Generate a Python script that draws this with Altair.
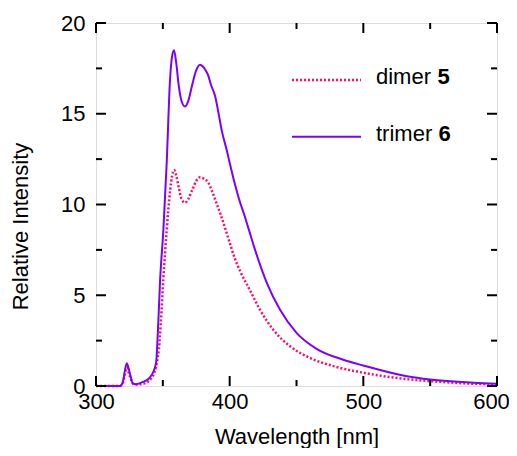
import altair as alt
import pandas as pd

# ---- data ----
trimer_wl = [300, 310, 318, 320, 323, 325, 327.5, 330, 335, 340, 343, 345, 346, 348, 350.4, 352.9,
             355.4, 357, 358.4, 360, 362, 364, 366.5, 369, 372, 375, 377.8, 380, 382, 384, 386, 389,
             392, 394, 397.8, 400, 404, 407, 411.5, 414, 419, 427.7, 437.7, 450, 465, 485, 500,
             532.5, 550, 582.5, 600]
trimer_int = [0, 0, 0, 0.2, 1.25, 0.8, 0.15, 0.1, 0.22, 0.45, 0.8, 1.3, 2.5, 5.9, 8.6, 12.3,
              16.9, 18.2, 18.5, 17.8, 16.5, 15.7, 15.4, 15.7, 16.6, 17.4, 17.7, 17.6, 17.4, 17.1, 16.6, 16.0,
              14.9, 14.1, 13.0, 12.3, 11.1, 10.3, 9.3, 8.7, 7.5, 5.7, 4.2, 2.93, 2.05, 1.45, 1.13,
              0.54, 0.36, 0.18, 0.12]

dimer_wl = [300, 318, 320, 323, 325, 328.5, 333, 337.5, 341, 343.6, 346, 347, 348.5, 350.4, 352.9,
            355.5, 357, 358.4, 360, 362, 364, 366.6, 369, 372, 375, 377.8, 380, 384, 387, 390, 393,
            397, 400, 404, 408, 415, 422.7, 432.6, 445, 460, 480, 500, 532.5, 550, 575, 600]
dimer_int = [0, 0, 0.15, 1.0, 0.6, 0.08, 0.1, 0.18, 0.4, 0.73, 1.5, 2.0, 3.5, 5.9, 8.6,
             10.8, 11.6, 11.9, 11.6, 10.9, 10.3, 10.1, 10.3, 10.8, 11.3, 11.5, 11.45, 11.2, 10.7, 10.1, 9.5,
             8.6, 7.9, 7.0, 6.3, 5.3, 4.2, 3.1, 2.2, 1.55, 1.05, 0.73, 0.38, 0.27, 0.15, 0.08]

x_major = [300, 400, 500, 600]
x_minor = [350, 450, 550]
y_major = [0, 5, 10, 15, 20]
y_minor = [2.5, 7.5, 12.5, 17.5]

W, H = 401, 363
FONT = "Liberation Sans"
FS = 22
TRIMER_C = "#7a00ff"
DIMER_C = "#ff0a6a"

xs = alt.Scale(domain=[300, 600], nice=False, zero=False)
ys = alt.Scale(domain=[0, 20], nice=False, zero=True)

trimer_df = pd.DataFrame({"wl": trimer_wl, "I": trimer_int})
dimer_df = pd.DataFrame({"wl": dimer_wl, "I": dimer_int})

x_axis = alt.Axis(values=x_major, domain=False, ticks=False, grid=False, labelPadding=5,
                  labelFlush=False, labelOverlap=False,
                  labelOffset={"condition": {"test": "datum.value == 600", "value": -6}, "value": 0},
                  labelFont=FONT, labelFontSize=FS, labelColor="black", format="d",
                  title="Wavelength [nm]", titleFont=FONT, titleFontSize=FS, titleFontWeight="normal",
                  titleColor="black", titleX=W / 2, titleY=57, titleBaseline="alphabetic")
y_axis = alt.Axis(values=y_major, domain=False, ticks=False, grid=False, labelPadding=11,
                  labelFlush=False, labelOverlap=False,
                  labelFont=FONT, labelFontSize=FS, labelColor="black", format="d",
                  labelBaseline="middle",
                  title="Relative Intensity", titleFont=FONT, titleFontSize=FS, titleFontWeight="normal",
                  titleColor="black", titleX=-69, titleY=203, titleAngle=270,
                  titleBaseline="alphabetic", titleAlign="center")

base_dimer = alt.Chart(dimer_df).mark_line(color=DIMER_C, strokeWidth=2.5, strokeDash=[2, 2],
                                           interpolate="monotone").encode(
    x=alt.X("wl:Q", scale=xs, axis=x_axis),
    y=alt.Y("I:Q", scale=ys, axis=y_axis),
)
trimer_line = alt.Chart(trimer_df).mark_line(color=TRIMER_C, strokeWidth=2,
                                             interpolate="monotone").encode(
    x=alt.X("wl:Q", scale=xs),
    y=alt.Y("I:Q", scale=ys),
)

# inward ticks
xmaj = pd.DataFrame({"v": x_major})
xmin = pd.DataFrame({"v": x_minor})
ymaj = pd.DataFrame({"v": y_major})
ymin = pd.DataFrame({"v": y_minor})

def xticks(df, length):
    b = alt.Chart(df).mark_rule(color="black", strokeWidth=2).encode(
        x=alt.X("v:Q", scale=xs), y=alt.value(H), y2=alt.value(H - length))
    t = alt.Chart(df).mark_rule(color="black", strokeWidth=2).encode(
        x=alt.X("v:Q", scale=xs), y=alt.value(0), y2=alt.value(length))
    return b + t

def yticks(df, length):
    l = alt.Chart(df).mark_rule(color="black", strokeWidth=2).encode(
        y=alt.Y("v:Q", scale=ys), x=alt.value(0), x2=alt.value(length))
    r = alt.Chart(df).mark_rule(color="black", strokeWidth=2).encode(
        y=alt.Y("v:Q", scale=ys), x=alt.value(W), x2=alt.value(W - length))
    return l + r

# legend
leg_dimer_line = alt.Chart(pd.DataFrame({"a": [0]})).mark_rule(
    color=DIMER_C, strokeWidth=2.5, strokeDash=[2, 2]).encode(
    x=alt.value(196), x2=alt.value(265), y=alt.value(57))
leg_trimer_line = alt.Chart(pd.DataFrame({"a": [0]})).mark_rule(
    color=TRIMER_C, strokeWidth=2).encode(
    x=alt.value(196), x2=alt.value(265), y=alt.value(113.7))

def legtext(txt, x, y, bold=False):
    return alt.Chart(pd.DataFrame({"t": [txt]})).mark_text(
        font=FONT, fontSize=FS, fontWeight="bold" if bold else "normal", color="black",
        align="left", baseline="alphabetic").encode(
        text="t:N", x=alt.value(x), y=alt.value(y))

chart = alt.layer(
    base_dimer, trimer_line,
    xticks(xmaj, 10), xticks(xmin, 6), yticks(ymaj, 10), yticks(ymin, 6),
    leg_dimer_line, leg_trimer_line,
    legtext("dimer", 280, 61), legtext("5", 341.5, 61, True),
    legtext("trimer", 280, 117.7), legtext("6", 342.5, 117.7, True),
).properties(
    width=W, height=H,
    autosize=alt.AutoSizeParams(type="none"),
    padding={"left": 88, "top": 15, "right": 12, "bottom": 62},
).configure_view(
    stroke="black", strokeWidth=2
).configure(background="white")

chart.save("out.html", embed_options={"renderer": "svg", "actions": False})
